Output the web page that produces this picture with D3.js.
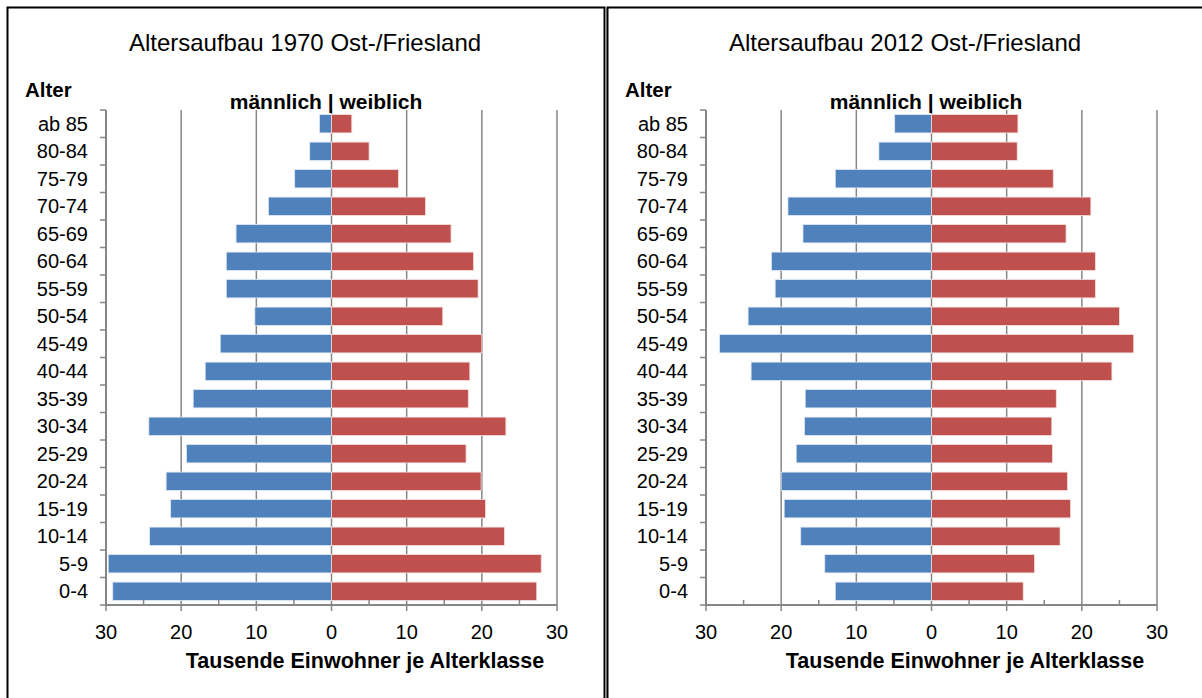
<!DOCTYPE html>
<html>
<head>
<meta charset="utf-8">
<script src="https://cdn.jsdelivr.net/npm/d3@7"></script>
<style>
  html, body { margin: 0; padding: 0; background: #fff; }
  svg { display: block; font-family: "Liberation Sans", Arial, sans-serif; }
</style>
</head>
<body>
<svg id="chart" width="1202" height="698"></svg>
<script>
// Age classes, top to bottom
const categories = ["ab 85","80-84","75-79","70-74","65-69","60-64","55-59","50-54","45-49",
  "40-44","35-39","30-34","25-29","20-24","15-19","10-14","5-9","0-4"];

// 1970 (thousands)
const male1970   = [1.6, 2.9, 4.9, 8.4, 12.7, 14.0, 14.0, 10.2, 14.8, 16.8, 18.4, 24.3, 19.3, 22.0, 21.4, 24.2, 29.7, 29.1];
const female1970 = [2.7, 5.0, 8.9, 12.5, 15.9, 18.9, 19.5, 14.8, 20.0, 18.4, 18.2, 23.2, 17.9, 19.9, 20.5, 23.0, 27.9, 27.3];

// 2012 (thousands)
const male2012   = [4.9, 7.0, 12.8, 19.1, 17.1, 21.3, 20.8, 24.4, 28.2, 24.0, 16.8, 16.9, 18.0, 20.0, 19.6, 17.4, 14.2, 12.8];
const female2012 = [11.5, 11.4, 16.2, 21.2, 17.9, 21.8, 21.8, 25.0, 26.9, 24.0, 16.6, 16.0, 16.1, 18.1, 18.5, 17.1, 13.7, 12.2];

const xTicks = [-30, -20, -10, 0, 10, 20, 30];
const minorTicks = [-25, -15, -5, 5, 15, 25];

const titles = ["Altersaufbau 1970 Ost-/Friesland", "Altersaufbau 2012 Ost-/Friesland"];
const yAxisLabel = "Alter";
const sexLabel = "männlich | weiblich";
const xAxisLabel = "Tausende Einwohner je Alterklasse";

const colMale = "#4F81BD", colFemale = "#C0504D", gridCol = "#868686";

const svg = d3.select("#chart");

// frames
svg.append("path").attr("d", "M7.5,720 V7.5 H604.5 V720").attr("fill", "none").attr("stroke", "#000").attr("stroke-width", 2);
svg.append("line").attr("x1", 606).attr("x2", 606).attr("y1", 8).attr("y2", 720).attr("stroke", "#999").attr("stroke-width", 1);
svg.append("path").attr("d", "M607.5,720 V7.5 H1210").attr("fill", "none").attr("stroke", "#000").attr("stroke-width", 2);

function drawPanel(off, title, male, female) {
  const g = svg.append("g").attr("transform", `translate(${off},0)`);
  const x = d3.scaleLinear().domain([-30, 30]).range([106, 557]);
  const y = d3.scaleBand().domain(categories).range([110, 605]).paddingInner(0.335).paddingOuter(0.1675);
  const top = 110, bottom = 605;

  // gridlines
  g.append("g").selectAll("line").data(xTicks.filter(t => t !== -30)).join("line")
    .attr("x1", d => x(d)).attr("x2", d => x(d)).attr("y1", top).attr("y2", bottom)
    .attr("stroke", gridCol).attr("stroke-width", 1.5);

  // bars
  g.append("g").selectAll("rect").data(categories).join("rect")
    .attr("x", (d, i) => x(-male[i])).attr("y", d => y(d))
    .attr("width", (d, i) => x(0) - x(-male[i])).attr("height", y.bandwidth())
    .attr("fill", colMale).attr("stroke", "#dfe8f3").attr("stroke-width", 0.8);
  g.append("g").selectAll("rect").data(categories).join("rect")
    .attr("x", x(0)).attr("y", d => y(d))
    .attr("width", (d, i) => x(female[i]) - x(0)).attr("height", y.bandwidth())
    .attr("fill", colFemale).attr("stroke", "#f2dcdb").attr("stroke-width", 0.8);

  // y axis (category axis)
  g.append("line").attr("x1", x(-30)).attr("x2", x(-30)).attr("y1", top).attr("y2", bottom)
    .attr("stroke", gridCol).attr("stroke-width", 2);
  const bounds = d3.range(categories.length + 1).map(i => top + i * y.step());
  g.append("g").selectAll("line").data(bounds).join("line")
    .attr("x1", x(-30) - 6).attr("x2", x(-30)).attr("y1", d => d).attr("y2", d => d)
    .attr("stroke", gridCol).attr("stroke-width", 1.5);
  g.append("g").selectAll("text").data(categories).join("text")
    .attr("x", 88).attr("y", d => y(d) + y.bandwidth() / 2).attr("dy", "0.36em")
    .attr("text-anchor", "end").attr("font-size", 20).attr("fill", "#000").text(d => d);

  // x axis
  g.append("line").attr("x1", x(-30)).attr("x2", x(30)).attr("y1", bottom).attr("y2", bottom)
    .attr("stroke", gridCol).attr("stroke-width", 2);
  g.append("g").selectAll("line").data(xTicks).join("line")
    .attr("x1", d => x(d)).attr("x2", d => x(d)).attr("y1", bottom).attr("y2", bottom + 6)
    .attr("stroke", gridCol).attr("stroke-width", 1.5);
  g.append("g").selectAll("line").data(minorTicks).join("line")
    .attr("x1", d => x(d)).attr("x2", d => x(d)).attr("y1", bottom - 5).attr("y2", bottom)
    .attr("stroke", gridCol).attr("stroke-width", 1.5);
  g.append("g").selectAll("text").data(xTicks).join("text")
    .attr("x", d => x(d)).attr("y", 639).attr("text-anchor", "middle")
    .attr("font-size", 20).attr("fill", "#000").text(d => Math.abs(d));

  // texts
  g.append("text").attr("x", 305).attr("y", 51).attr("text-anchor", "middle")
    .attr("font-size", 24).attr("fill", "#000").text(title);
  g.append("text").attr("x", 25).attr("y", 97).attr("font-size", 20.5).attr("font-weight", "bold").text(yAxisLabel);
  g.append("text").attr("x", 326).attr("y", 109).attr("text-anchor", "middle")
    .attr("font-size", 21).attr("font-weight", "bold").text(sexLabel);
  g.append("text").attr("x", 365).attr("y", 668).attr("text-anchor", "middle")
    .attr("font-size", 21.5).attr("font-weight", "bold").text(xAxisLabel);
}

drawPanel(0, titles[0], male1970, female1970);
drawPanel(600, titles[1], male2012, female2012);
</script>
</body>
</html>
